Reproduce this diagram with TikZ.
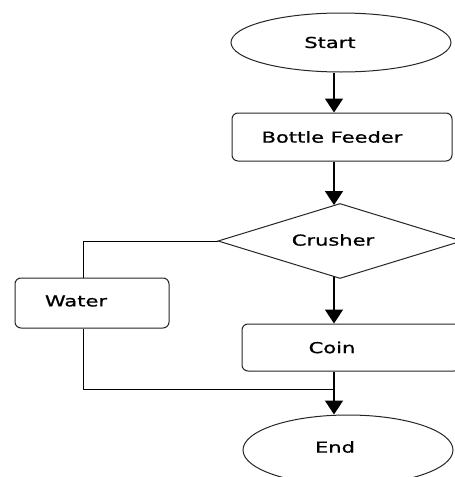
\documentclass[tikz,border=0pt]{standalone}
\usepackage{fontspec}
\setmainfont[FakeStretch=1.4, FakeBold=1]{DejaVu Sans}
\usetikzlibrary{shapes.geometric,arrows.meta}

\tikzset{
  flow/.style={draw=black!85, line width=1, inner sep=0},
  term/.style={flow, ellipse, minimum width=220, minimum height=59},
  proc/.style={flow, rectangle, rounded corners=6},
  txt/.style={font=\fontsize{15}{18}\selectfont, inner sep=0},
  link/.style={black, line width=1},
  arrow/.style={black, line width=1.7, -{Triangle[width=18,length=14]}}
}

\begin{document}
\begin{tikzpicture}[x=1pt, y=-1pt]

\clip (0,0) rectangle (455,477);
\fill[white] (0,0) rectangle (455,477);

\coordinate (axis) at (334,0);

\node[term, label={[txt, xshift=-11]center:Start}] (start) at (341,42.5) {};
\node[proc, minimum width=220, minimum height=48,
      label={[txt, xshift=-10]center:Bottle Feeder}] (feeder) at (342,137) {};
\node[flow, diamond, minimum width=244, minimum height=75,
      label={[txt, xshift=-7, yshift=1]center:Crusher}] (crusher) at (340,241) {};
\node[proc, minimum width=154, minimum height=50,
      label={[txt, xshift=-16, yshift=2]center:Water}] (water) at (92,303) {};
\node[proc, minimum width=218, minimum height=47,
      label={[txt, xshift=-19]center:Coin}] (coin) at (351,347.5) {};
\node[term, minimum width=210, minimum height=70,
      label={[txt, xshift=-13, yshift=3]center:End}] (end) at (348,450) {};

\coordinate (side) at (83,0);
\coordinate (join) at (334,389);

\draw[arrow] (start.south -| axis) -- (feeder.north -| axis);
\draw[arrow] (feeder.south -| axis) -- ([yshift=-2]crusher.north -| axis);
\draw[arrow] ([yshift=2]crusher.south -| axis) -- (coin.north -| axis);
\draw[arrow] (coin.south -| axis) -- (end.north -| axis);

\draw[link] (crusher.west) -- (crusher.west -| side) -- (water.north -| side);
\draw[link] (water.south -| side) -- (join -| side) -- (join);

\end{tikzpicture}
\end{document}
